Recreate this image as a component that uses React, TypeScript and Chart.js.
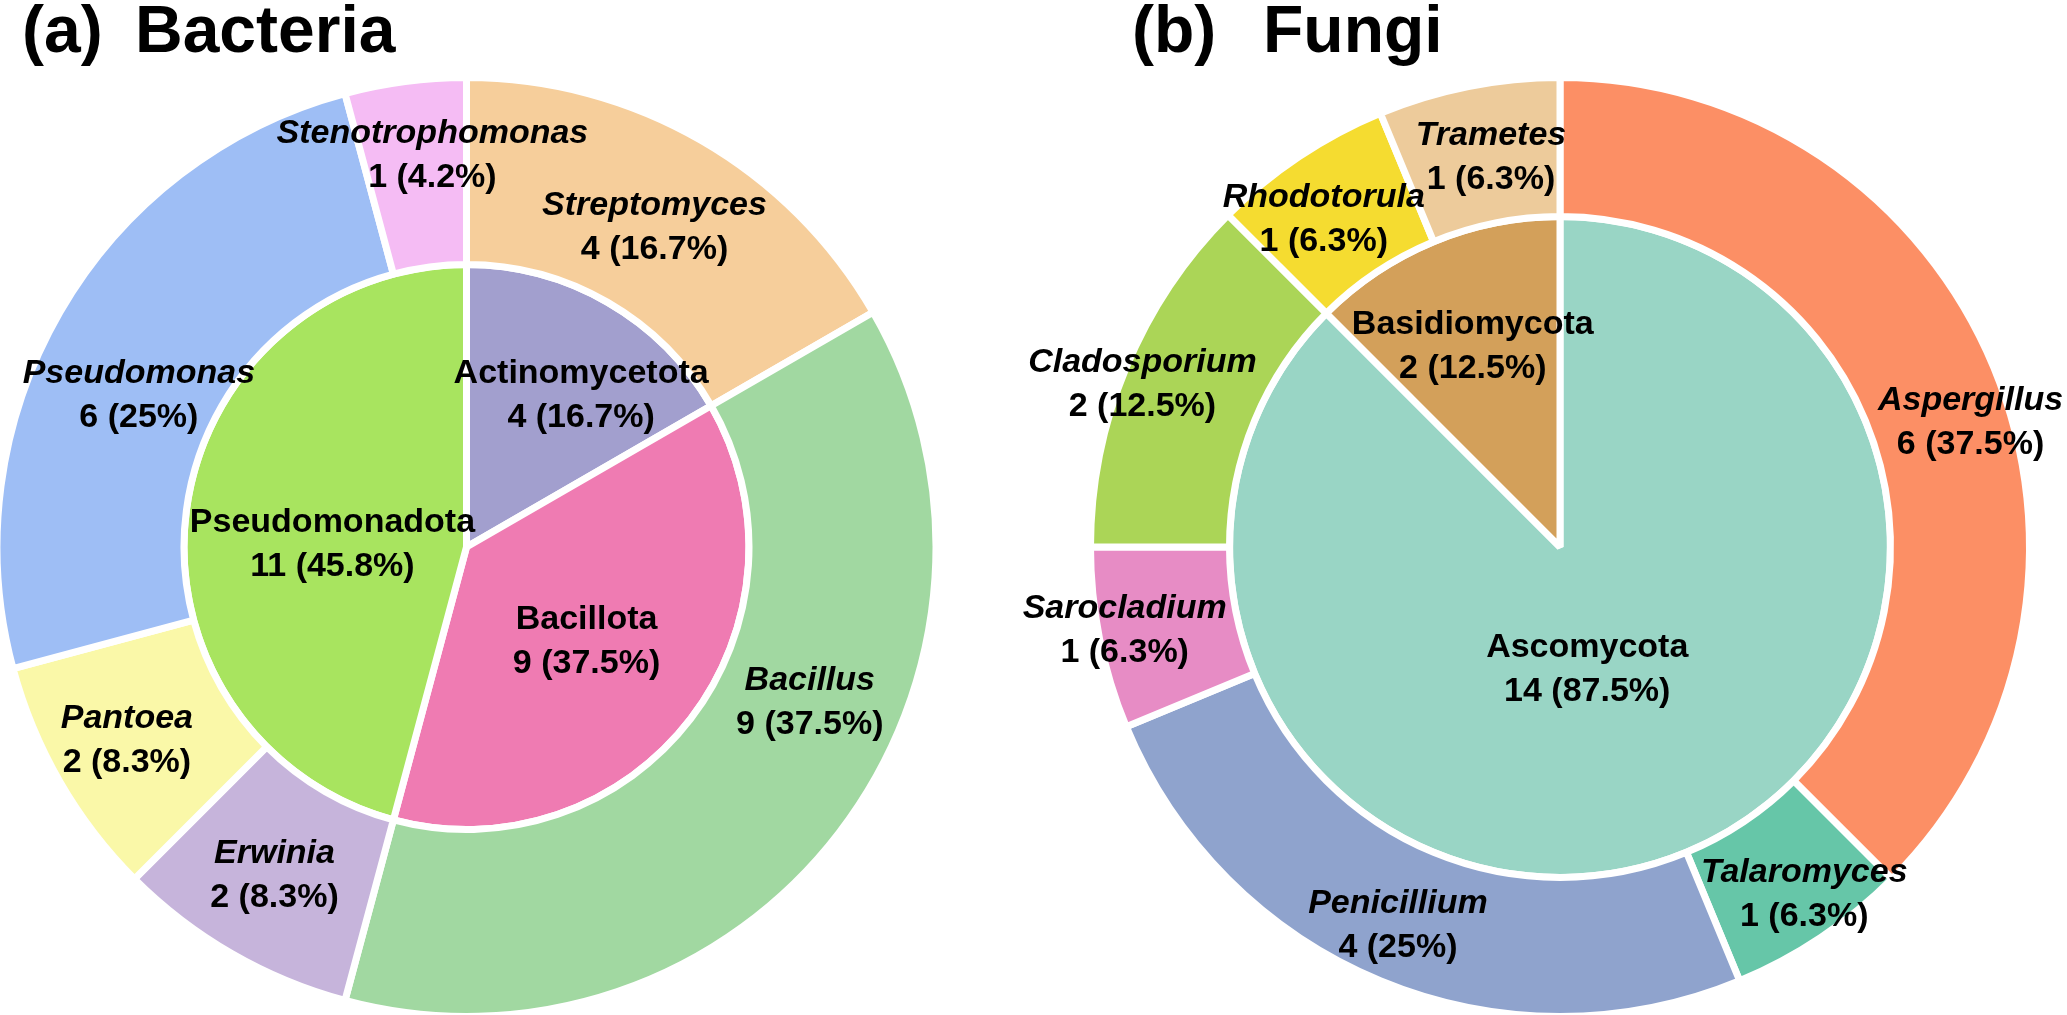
import React, { useEffect, useRef } from "react";
import { Chart, registerables } from "chart.js";

Chart.register(...registerables);

// ---------- Bacteria data ----------
const bacteriaGenera = ["Streptomyces", "Bacillus", "Erwinia", "Pantoea", "Pseudomonas", "Stenotrophomonas"];
const bacteriaGenusCounts = [4, 9, 2, 2, 6, 1];
const bacteriaGenusColors = ["#F6CE9B", "#A1D8A1", "#C6B4DB", "#FAF8A8", "#9EBEF5", "#F5BCF4"];
const bacteriaPhyla = ["Actinomycetota", "Bacillota", "Pseudomonadota"];
const bacteriaPhylumCounts = [4, 9, 11];
const bacteriaPhylumColors = ["#A29FCE", "#EF7BB2", "#A8E45F"];

// ---------- Fungi data ----------
const fungiGenera = ["Aspergillus", "Talaromyces", "Penicillium", "Sarocladium", "Cladosporium", "Rhodotorula", "Trametes"];
const fungiGenusCounts = [6, 1, 4, 1, 2, 1, 1];
const fungiGenusColors = ["#FC8F65", "#66C6A8", "#8FA3CD", "#E78CC5", "#ABD557", "#F5DC30", "#EDCB9B"];
const fungiPhyla = ["Ascomycota", "Basidiomycota"];
const fungiPhylumCounts = [14, 2];
const fungiPhylumColors = ["#99D5C5", "#D3A05A"];

// ---------- label placement (offsets from each slice's centroid, px) ----------
const bacteriaGenusLabelOffsets = [[0, 16], [45, -64], [-4, 12], [-14, 15], [-2, 46], [15, -9]];
const bacteriaPhylumLabelOffsets = [[44, -20], [8, 18], [6, 25]];
const fungiGenusLabelOffsets = [[41, 38], [22, 24], [-9, 18], [-43, 15], [-48, 0], [-14, 15], [9, 12]];
const fungiPhylumLabelOffsets = [[-36, -21], [-24, -38]];

const FONT = "'Liberation Sans', Arial, sans-serif";

function fmtPct(v: number, total: number) {
  let s = ((v / total) * 100).toFixed(1);
  if (s.endsWith(".0")) s = s.slice(0, -2);
  return s + "%";
}

const sliceLabelPlugin = {
  id: "sliceLabels",
  afterDatasetsDraw(chart: any, _args: any, opts: any) {
    const ctx = chart.ctx;
    ctx.save();
    ctx.fillStyle = "#000";
    ctx.textAlign = "center";
    ctx.textBaseline = "alphabetic";
    chart.data.datasets.forEach((ds: any, di: number) => {
      const meta = chart.getDatasetMeta(di);
      const offs = opts.offsets[di];
      const names = opts.names[di];
      const italic = opts.italic[di];
      const total = ds.data.reduce((a: number, b: number) => a + b, 0);
      meta.data.forEach((arc: any, i: number) => {
        const p = arc.getProps(["x", "y", "startAngle", "endAngle", "innerRadius", "outerRadius"], true);
        const mid = (p.startAngle + p.endAngle) / 2;
        const r = (p.innerRadius + p.outerRadius) / 2;
        const ax = p.x + Math.cos(mid) * r + offs[i][0];
        const ay = p.y + Math.sin(mid) * r + offs[i][1];
        ctx.font = (italic ? "italic " : "") + "bold 34px " + FONT;
        ctx.fillText(names[i], ax, ay - 22);
        ctx.font = "bold 34px " + FONT;
        ctx.fillText(`${ds.data[i]} (${fmtPct(ds.data[i], total)})`, ax, ay + 22);
      });
    });
    // panel title
    const t = opts.title;
    ctx.textAlign = "left";
    ctx.font = "bold 66px " + FONT;
    ctx.fillText(t.tag, t.tagX, t.y);
    ctx.fillText(t.text, t.textX, t.y);
    ctx.restore();
  },
};

function makeConfig(p: {
  genera: string[]; genusCounts: number[]; genusColors: string[];
  phyla: string[]; phylumCounts: number[]; phylumColors: string[];
  genusOffsets: number[][]; phylumOffsets: number[][];
  outerWeight: number; innerWeight: number;
  padding: { left: number; right: number; top: number; bottom: number };
  title: { tag: string; text: string; tagX: number; textX: number; y: number };
}): any {
  return {
    type: "doughnut",
    data: {
      labels: p.genera,
      datasets: [
        {
          data: p.genusCounts,
          backgroundColor: p.genusColors,
          borderColor: "#FFFFFF",
          borderWidth: 7,
          weight: p.outerWeight,
          hoverOffset: 0,
          clip: false,
        },
        {
          data: p.phylumCounts,
          backgroundColor: p.phylumColors,
          borderColor: "#FFFFFF",
          borderWidth: 7,
          weight: p.innerWeight,
          hoverOffset: 0,
          clip: false,
        },
      ],
    },
    options: {
      responsive: false,
      maintainAspectRatio: false,
      animation: false,
      events: [],
      cutout: 0,
      radius: 469.5,
      layout: { padding: p.padding },
      plugins: {
        legend: { display: false },
        tooltip: { enabled: false },
        title: { display: false },
        sliceLabels: {
          offsets: [p.genusOffsets, p.phylumOffsets],
          names: [p.genera, p.phyla],
          italic: [true, false],
          title: p.title,
        },
      },
    },
    plugins: [sliceLabelPlugin],
  };
}

function PieCanvas({ config }: { config: () => any }) {
  const ref = useRef<HTMLCanvasElement | null>(null);
  useEffect(() => {
    const chart = new Chart(ref.current as HTMLCanvasElement, config());
    return () => chart.destroy();
  }, []);
  return (
    <canvas
      ref={ref}
      width={2067}
      height={1015}
      style={{ position: "absolute", left: 0, top: 0, width: 2067, height: 1015, display: "block" }}
    />
  );
}

export default function App() {
  return (
    <div
      style={{
        position: "fixed",
        left: 0,
        top: 0,
        width: 2067,
        height: 1015,
        overflow: "hidden",
        background: "#FFFFFF",
      }}
    >
      <PieCanvas
        config={() =>
          makeConfig({
            genera: bacteriaGenera,
            genusCounts: bacteriaGenusCounts,
            genusColors: bacteriaGenusColors,
            phyla: bacteriaPhyla,
            phylumCounts: bacteriaPhylumCounts,
            phylumColors: bacteriaPhylumColors,
            genusOffsets: bacteriaGenusLabelOffsets,
            phylumOffsets: bacteriaPhylumLabelOffsets,
            outerWeight: 187,
            innerWeight: 282.5,
            padding: { left: 0, right: 1134, top: 79, bottom: 0 },
            title: { tag: "(a)", text: "Bacteria", tagX: 22, textX: 135, y: 52 },
          })
        }
      />
      <PieCanvas
        config={() =>
          makeConfig({
            genera: fungiGenera,
            genusCounts: fungiGenusCounts,
            genusColors: fungiGenusColors,
            phyla: fungiPhyla,
            phylumCounts: fungiPhylumCounts,
            phylumColors: fungiPhylumColors,
            genusOffsets: fungiGenusLabelOffsets,
            phylumOffsets: fungiPhylumLabelOffsets,
            outerWeight: 139,
            innerWeight: 330.5,
            padding: { left: 1053, right: 0, top: 79, bottom: 0 },
            title: { tag: "(b)", text: "Fungi", tagX: 1132, textX: 1263, y: 52 },
          })
        }
      />
    </div>
  );
}
